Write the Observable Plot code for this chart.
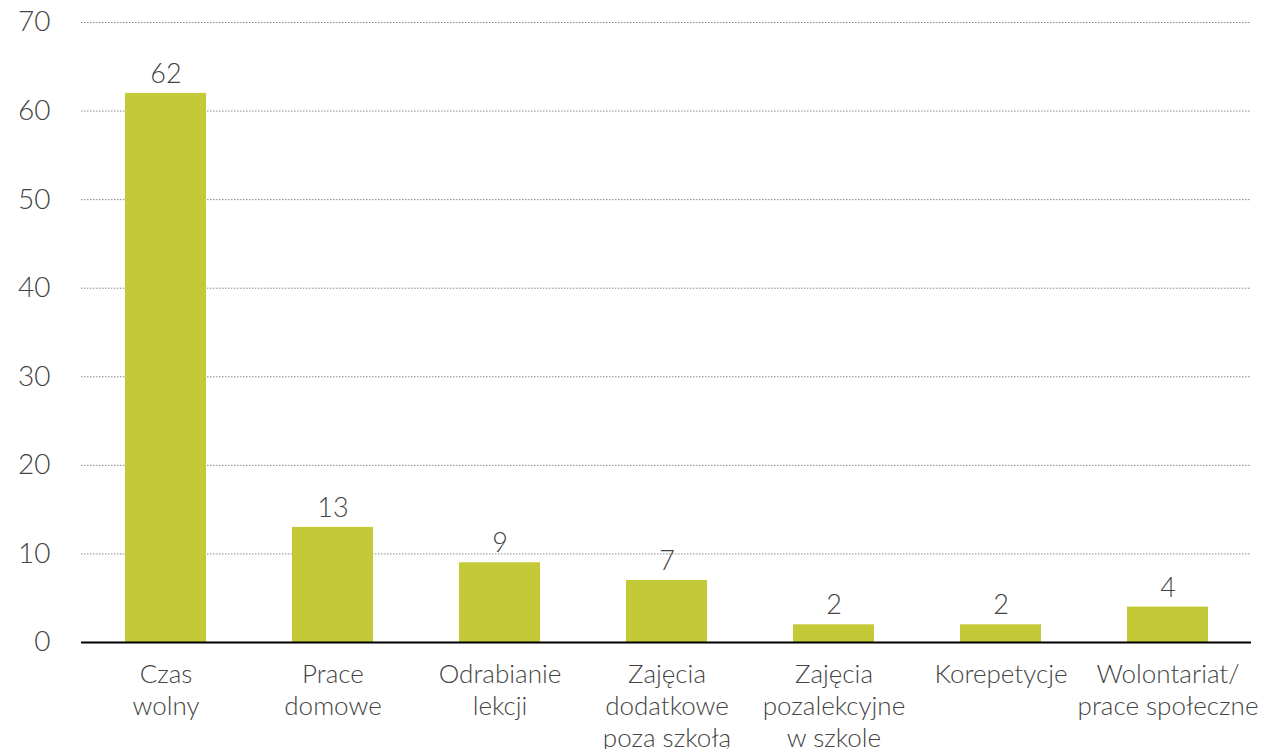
<!DOCTYPE html>
<html><head><meta charset="utf-8">
<script src="https://cdn.jsdelivr.net/npm/d3@7"></script>
<script src="https://cdn.jsdelivr.net/npm/@observablehq/plot@0.6"></script>
<style>
body{margin:0;background:#fff;}
#chart svg{font-family:Lato,"Open Sans",sans-serif;font-weight:300;}
</style></head>
<body><div id="chart"></div>
<script>
const categories = ["Czas wolny","Prace domowe","Odrabianie lekcji","Zajęcia dodatkowe poza szkołą","Zajęcia pozalekcyjne w szkole","Korepetycje","Wolontariat/ prace społeczne"];
const categoryLabels = ["Czas\nwolny","Prace\ndomowe","Odrabianie\nlekcji","Zajęcia\ndodatkowe\npoza szkołą","Zajęcia\npozalekcyjne\nw szkole","Korepetycje","Wolontariat/\nprace społeczne"];
const values = [62,13,9,7,2,2,4];
const yTicks = [0,10,20,30,40,50,60,70];

const data = categories.map((c,i)=>({category:c, value:values[i]}));
const labelMap = new Map(categories.map((c,i)=>[c, categoryLabels[i]]));

const chart = Plot.plot({
  width: 1267,
  height: 749,
  marginLeft: 81,
  marginRight: 16,
  marginTop: 22,
  marginBottom: 107,
  x: {domain: categories, paddingInner: 0.515, paddingOuter: 0.2575, align: 0.5},
  y: {domain: [0,70], ticks: yTicks},
  style: {fontSize: "26px", color: "#444", background: "#fff"},
  marks: [
    Plot.gridY(yTicks.filter(d=>d>0), {stroke:"#888", strokeOpacity:1, strokeDasharray:"1.5,1.5", strokeWidth:1}),
    Plot.axisY({ticks: yTicks, tickSize: 0, tickPadding: 0, textAnchor: "end", dx: -31, fontSize: 28, fill:"#444", label: null}),
    Plot.barY(data, {x:"category", y:"value", fill:"#c4c937"}),
    Plot.text(data, {x:"category", y:"value", text: d=>String(d.value), dy:-19, fontSize:27, fill:"#444"}),
    Plot.ruleY([0], {stroke:"#000", strokeWidth:2}),
    Plot.axisX({tickSize:0, tickPadding: 18, tickFormat: d=>labelMap.get(d), lineHeight: 1.23, fontSize: 26, fill:"#444", label:null, textAnchor:"middle"})
  ]
});
document.getElementById("chart").appendChild(chart);
</script></body></html>
